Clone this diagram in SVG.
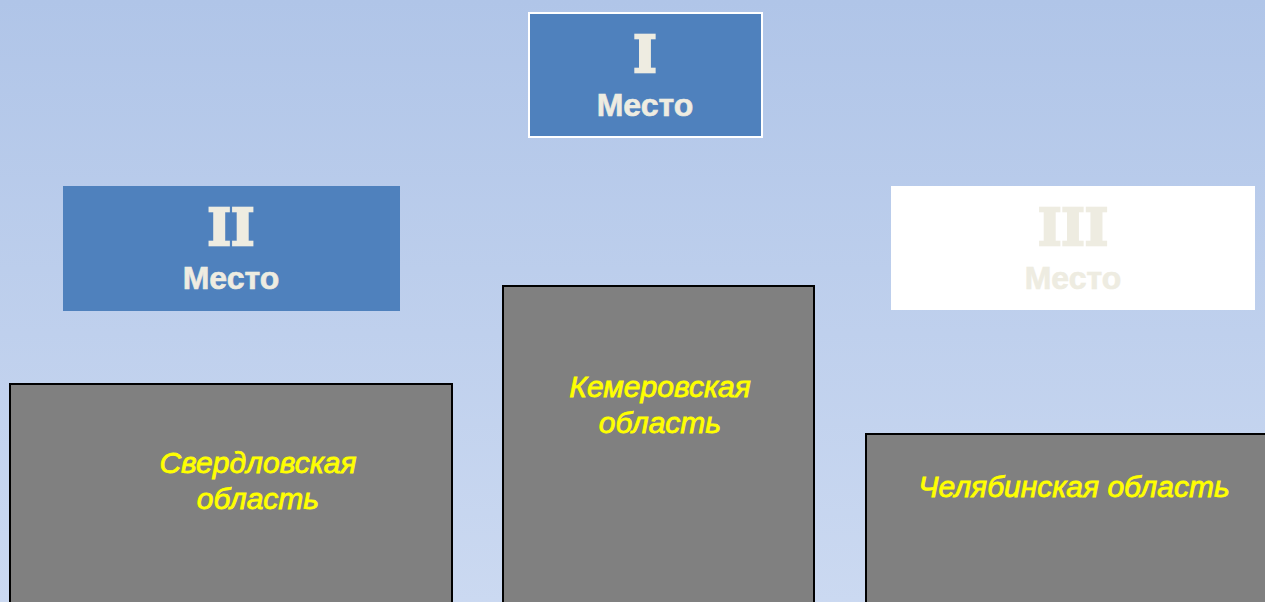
<svg xmlns="http://www.w3.org/2000/svg" width="1265" height="602" viewBox="0 0 1265 602">
<defs>
<linearGradient id="bg" x1="0" y1="0" x2="0" y2="1">
<stop offset="0" stop-color="#B0C5E8"/>
<stop offset="1" stop-color="#CBD9F1"/>
</linearGradient>
<style>
.place{fill:#4F81BD}
.num{font-family:"DejaVu Serif",serif;font-weight:bold;font-size:50px;fill:#EEECE1;stroke:#EEECE1;stroke-width:2.5;text-anchor:middle}
.lbl{font-family:"Liberation Sans",Arial,sans-serif;font-weight:bold;font-size:32px;fill:#EEECE1;stroke:#EEECE1;stroke-width:0.6;text-anchor:middle}
.ped{fill:#808080;stroke:#000;stroke-width:2}
.reg{font-family:"Liberation Sans",Arial,sans-serif;font-style:italic;font-size:30px;fill:#FFFF00;stroke:#FFFF00;stroke-width:0.8;text-anchor:middle}
</style>
</defs>
<rect width="1265" height="602" fill="url(#bg)"/>
<g id="place1">
<rect class="place" x="529" y="13" width="233" height="124" stroke="#FFFFFF" stroke-width="2"/>
<text class="num" x="645" y="72">I</text>
<text class="lbl" x="645" y="116">Место</text>
</g>
<g id="place2">
<rect class="place" x="63" y="186" width="337" height="125"/>
<text class="num" x="231" y="245">II</text>
<text class="lbl" x="231" y="289">Место</text>
</g>
<g id="place3">
<rect x="891" y="186" width="364" height="124" fill="#FFFFFF"/>
<text class="num" x="1073" y="245">III</text>
<text class="lbl" x="1073" y="289">Место</text>
</g>
<g id="pedestal2">
<rect class="ped" x="10" y="384" width="442" height="230"/>
<text class="reg" x="258" y="473">Свердловская</text>
<text class="reg" x="258" y="509">область</text>
</g>
<g id="pedestal1">
<rect class="ped" x="503" y="286" width="311" height="330"/>
<text class="reg" x="660" y="397">Кемеровская</text>
<text class="reg" x="660" y="433">область</text>
</g>
<g id="pedestal3">
<rect class="ped" x="866" y="434" width="410" height="180"/>
<text class="reg" x="1074" y="497">Челябинская область</text>
</g>
<g id="connectors"/>
</svg>
